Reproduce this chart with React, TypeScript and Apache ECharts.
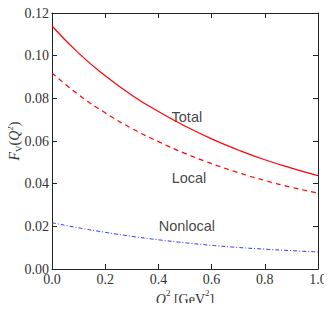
import React, { useEffect, useRef } from "react";
import * as echarts from "echarts";

const q2 = [0, 0.1, 0.2, 0.3, 0.4, 0.5, 0.6, 0.7, 0.8, 0.9, 1.0];
const totalVals = [0.1139, 0.1012, 0.0906, 0.0815, 0.0738, 0.067, 0.061, 0.0558, 0.0512, 0.0473, 0.0438];
const localVals = [0.0919, 0.0817, 0.0732, 0.0659, 0.0597, 0.0542, 0.0494, 0.0452, 0.0415, 0.0383, 0.0356];
const nonlocalVals = [0.0217, 0.0193, 0.0172, 0.0153, 0.0137, 0.0123, 0.0111, 0.0101, 0.0093, 0.0086, 0.008];
const annotations = [
  { text: "Total", x: 0.507, y: 0.0712 },
  { text: "Local", x: 0.515, y: 0.0426 },
  { text: "Nonlocal", x: 0.507, y: 0.0203 },
];

const serif = "'Liberation Serif', 'DejaVu Serif', serif";
const axisColor = "#222";

export default function App() {
  const ref = useRef<HTMLDivElement>(null);
  useEffect(() => {
    if (!ref.current) return;
    const chart = echarts.init(ref.current, undefined, { renderer: "svg" });
    const pairs = (vals: number[]) => q2.map((x, i) => [x, vals[i]]);
    const tickStyle = { show: true, inside: true, length: 5, lineStyle: { color: axisColor, width: 1 } };
    chart.setOption({
      animation: false,
      backgroundColor: "#fff",
      grid: { left: 52, right: 14, top: 13, bottom: 42, containLabel: false, outerBoundsMode: "none" },
      xAxis: [
        {
          type: "value",
          min: 0,
          max: 1,
          interval: 0.2,
          axisLine: { show: true, onZero: false, lineStyle: { color: axisColor, width: 1 } },
          axisTick: tickStyle,
          splitLine: { show: false },
          axisLabel: {
            formatter: (v: number) => v.toFixed(1),
            fontFamily: serif,
            fontSize: 14,
            color: "#333",
            margin: 3,
          },
          name: "{i|Q}{sup|2}{n| [GeV}{sup|2}{n|]}",
          nameLocation: "middle",
          nameGap: 19,
          nameMoveOverlap: false,
          nameTextStyle: {
            rich: {
              i: { fontFamily: serif, fontStyle: "italic", fontSize: 14, color: "#333", lineHeight: 18, verticalAlign: "bottom" },
              n: { fontFamily: serif, fontSize: 14, color: "#333", lineHeight: 18, verticalAlign: "bottom" },
              sup: { fontFamily: serif, fontSize: 9, color: "#333", lineHeight: 18, verticalAlign: "top" },
            },
          },
        },
        {
          type: "value",
          position: "top",
          min: 0,
          max: 1,
          interval: 0.2,
          axisLine: { show: true, onZero: false, lineStyle: { color: axisColor, width: 1 } },
          axisTick: tickStyle,
          axisLabel: { show: false },
          splitLine: { show: false },
        },
      ],
      yAxis: [
        {
          type: "value",
          min: 0,
          max: 0.12,
          interval: 0.02,
          axisLine: { show: true, onZero: false, lineStyle: { color: axisColor, width: 1 } },
          axisTick: tickStyle,
          splitLine: { show: false },
          axisLabel: {
            formatter: (v: number) => v.toFixed(2),
            fontFamily: serif,
            fontSize: 14,
            color: "#333",
            margin: 3,
          },
          name: "{i|F}{sub|V}{n|(}{i|Q}{sup|2}{n|)}",
          nameLocation: "middle",
          nameGap: 29,
          nameRotate: 90,
          nameMoveOverlap: false,
          nameTextStyle: {
            rich: {
              i: { fontFamily: serif, fontStyle: "italic", fontSize: 14, color: "#333", lineHeight: 18, verticalAlign: "middle" },
              n: { fontFamily: serif, fontSize: 14, color: "#333", lineHeight: 18, verticalAlign: "middle" },
              sup: { fontFamily: serif, fontSize: 9, color: "#333", lineHeight: 18, verticalAlign: "top" },
              sub: { fontFamily: serif, fontSize: 9, color: "#333", lineHeight: 18, verticalAlign: "bottom" },
            },
          },
        },
        {
          type: "value",
          position: "right",
          min: 0,
          max: 0.12,
          interval: 0.02,
          axisLine: { show: true, onZero: false, lineStyle: { color: axisColor, width: 1 } },
          axisTick: tickStyle,
          axisLabel: { show: false },
          splitLine: { show: false },
        },
      ],
      series: [
        {
          name: "Total",
          type: "line",
          data: pairs(totalVals),
          smooth: true,
          showSymbol: false,
          lineStyle: { color: "#ff0000", width: 1.2, type: "solid" },
        },
        {
          name: "Local",
          type: "line",
          data: pairs(localVals),
          smooth: true,
          showSymbol: false,
          lineStyle: { color: "#ff0000", width: 1.2, type: [5, 4] },
        },
        {
          name: "Nonlocal",
          type: "line",
          data: pairs(nonlocalVals),
          smooth: true,
          showSymbol: false,
          lineStyle: { color: "#3333ff", width: 1, type: [4, 2, 1, 2] },
        },
        {
          type: "scatter",
          symbolSize: 0,
          silent: true,
          data: annotations.map((a) => ({ value: [a.x, a.y], name: a.text })),
          label: {
            show: true,
            position: "inside",
            formatter: (p: any) => p.name,
            fontFamily: "'Liberation Sans', Arial, sans-serif",
            fontSize: 14.5,
            color: "#111",
          },
        },
      ],
    });
    return () => chart.dispose();
  }, []);
  return <div ref={ref} style={{ width: 332, height: 311, margin: -8 }} />;
}
